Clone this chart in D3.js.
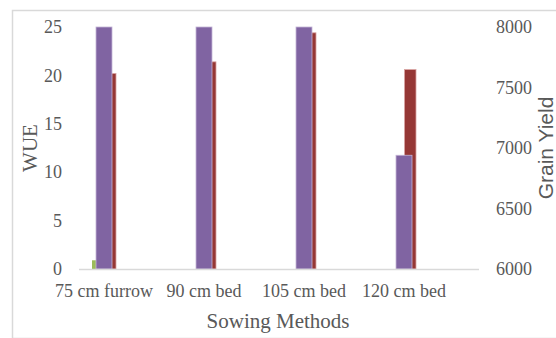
<!DOCTYPE html>
<html>
<head>
<meta charset="utf-8">
<script src="https://cdn.jsdelivr.net/npm/d3@7"></script>
<style>
  html, body { margin: 0; padding: 0; background: #fff; }
  svg { display: block; }
</style>
</head>
<body>
<div id="chart"></div>
<script>
// data
const categories = ['75 cm furrow', '90 cm bed', '105 cm bed', '120 cm bed'];
const greenSeries = [0.9, 0, 0, 0];            // primary axis
const wue = [20.2, 21.4, 24.4, 20.6];          // primary axis (red)
const grainYield = [8000, 8000, 8000, 6940];   // secondary axis (purple)
const leftTicks = [0, 5, 10, 15, 20, 25];
const rightTicks = [6000, 6500, 7000, 7500, 8000];

const width = 556;
const height = 338;
const plot = { left: 79, right: 479, top: 27, bottom: 269 };
const textColor = '#595959';
const serif = '"Liberation Serif", "Times New Roman", serif';

const svg = d3.select('#chart')
  .append('svg')
  .attr('width', width)
  .attr('height', height);

// chart frame (only left and top edges are inside the window)
svg.append('rect')
  .attr('x', 12.5)
  .attr('y', 10.5)
  .attr('width', 560)
  .attr('height', 328)
  .attr('fill', 'none')
  .attr('stroke', '#d9d9d9')
  .attr('stroke-width', 1.5);

// scales
const x = d3.scaleBand()
  .domain(categories)
  .range([plot.left - 25, plot.right - 25]);

const yLeft = d3.scaleLinear()
  .domain([0, 25])
  .range([plot.bottom, plot.top]);

const yRight = d3.scaleLinear()
  .domain([6000, 8000])
  .range([plot.bottom, plot.top]);

const cx = (c) => x(c) + x.bandwidth() / 2;

const bars = svg.append('g');

// green (primary) - sits behind purple
bars.selectAll('.bar-green')
  .data(categories.map((c, i) => ({ c, v: greenSeries[i] })).filter((d) => d.v > 0))
  .join('rect')
  .attr('class', 'bar-green')
  .attr('x', (d) => cx(d.c) - 12)
  .attr('width', 12)
  .attr('y', (d) => yLeft(d.v))
  .attr('height', (d) => yLeft(0) - yLeft(d.v))
  .attr('fill', '#9bbb59');

// red (primary) - sits behind purple
bars.selectAll('.bar-red')
  .data(categories.map((c, i) => ({ c, v: wue[i] })))
  .join('rect')
  .attr('class', 'bar-red')
  .attr('x', (d) => cx(d.c) + 0.5)
  .attr('width', 11.5)
  .attr('y', (d) => yLeft(d.v))
  .attr('height', (d) => yLeft(0) - yLeft(d.v))
  .attr('fill', '#953735')
  .attr('stroke', '#d9a3a2')
  .attr('stroke-width', 0.8);

// purple (secondary)
bars.selectAll('.bar-purple')
  .data(categories.map((c, i) => ({ c, v: grainYield[i] })))
  .join('rect')
  .attr('class', 'bar-purple')
  .attr('x', (d) => cx(d.c) - 8)
  .attr('width', 16)
  .attr('y', (d) => yRight(d.v))
  .attr('height', (d) => yRight(6000) - yRight(d.v))
  .attr('fill', '#8064a2')
  .attr('stroke', '#c3b4d6')
  .attr('stroke-width', 0.8);

// baseline
svg.append('line')
  .attr('x1', plot.left)
  .attr('x2', plot.right)
  .attr('y1', plot.bottom + 0.5)
  .attr('y2', plot.bottom + 0.5)
  .attr('stroke', '#d9d9d9')
  .attr('stroke-width', 1.5);

// left axis
const leftAxis = svg.append('g')
  .attr('transform', `translate(${plot.left - 17},0)`)
  .call(d3.axisLeft(yLeft).tickValues(leftTicks).tickSize(0).tickPadding(0));
leftAxis.select('.domain').remove();
leftAxis.selectAll('text')
  .attr('font-family', serif)
  .attr('font-size', 18)
  .attr('fill', textColor);

// right axis
const rightAxis = svg.append('g')
  .attr('transform', `translate(${plot.right + 17},0)`)
  .call(d3.axisRight(yRight).tickValues(rightTicks).tickFormat(d3.format('d'))
    .tickSize(0).tickPadding(0));
rightAxis.select('.domain').remove();
rightAxis.selectAll('text')
  .attr('font-family', serif)
  .attr('font-size', 18)
  .attr('fill', textColor);

// category labels
const bottomAxis = svg.append('g')
  .attr('transform', `translate(0,${plot.bottom})`)
  .call(d3.axisBottom(x).tickSize(0).tickPadding(15));
bottomAxis.select('.domain').remove();
bottomAxis.selectAll('text')
  .attr('font-family', serif)
  .attr('font-size', 18)
  .attr('fill', textColor);

// axis titles
svg.append('text')
  .attr('transform', 'translate(37,148) rotate(-90)')
  .attr('text-anchor', 'middle')
  .attr('font-family', serif)
  .attr('font-size', 21)
  .attr('fill', textColor)
  .text('WUE');

svg.append('text')
  .attr('transform', 'translate(553,148) rotate(-90)')
  .attr('text-anchor', 'middle')
  .attr('font-family', '"Liberation Sans", Arial, sans-serif')
  .attr('font-size', 21)
  .attr('fill', textColor)
  .text('Grain Yield');

svg.append('text')
  .attr('x', 278)
  .attr('y', 328)
  .attr('text-anchor', 'middle')
  .attr('font-family', serif)
  .attr('font-size', 21)
  .attr('fill', textColor)
  .text('Sowing Methods');
</script>
</body>
</html>
